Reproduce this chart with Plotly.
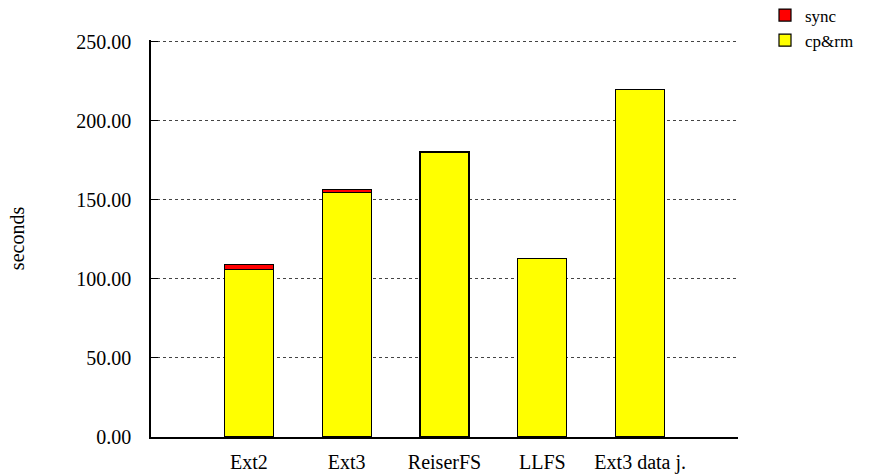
import plotly.graph_objects as go

# Benchmark: time to copy & remove a tree, plus final sync, per file system
categories = ["Ext2", "Ext3", "ReiserFS", "LLFS", "Ext3 data j."]
cp_rm = [106.1, 154.6, 180.2, 112.8, 219.9]
sync = [3.0, 2.0, None, None, None]
y_ticks = [0, 50, 100, 150, 200, 250]

FONT = "Liberation Serif, Times New Roman, serif"

fig = go.Figure()
fig.add_trace(go.Bar(
    x=categories, y=cp_rm, name="cp&rm", width=0.5,
    marker=dict(color="#FFFF00", line=dict(color="black", width=1.2)),
))
fig.add_trace(go.Bar(
    x=categories, y=sync, name="sync", width=0.5,
    marker=dict(color="#FF0000", line=dict(color="black", width=1.2)),
))

fig.update_layout(
    width=869, height=476,
    barmode="stack",
    plot_bgcolor="white", paper_bgcolor="white",
    margin=dict(l=151, r=131, t=40, b=39, autoexpand=False),
    font=dict(family=FONT, size=20, color="black"),
    showlegend=True,
    legend=dict(
        x=1.046, y=1.107, xanchor="left", yanchor="top",
        traceorder="reversed", font=dict(size=17, family=FONT),
        itemwidth=30, tracegroupgap=0, bgcolor="rgba(0,0,0,0)",
    ),
    xaxis=dict(
        type="category", range=[-1, 5],
        showline=True, linecolor="black", linewidth=1.5,
        ticks="", showgrid=False, ticklabelstandoff=6,
        tickfont=dict(size=20, family=FONT),
    ),
    yaxis=dict(
        range=[0, 251], tickvals=y_ticks,
        ticktext=[f"{v:.2f}" for v in y_ticks],
        showline=True, linecolor="black", linewidth=1.5,
        ticks="inside", ticklen=7, tickcolor="black", tickwidth=1,
        showgrid=True, gridcolor="#444444", griddash="dot", gridwidth=1,
        zeroline=False, ticklabelstandoff=14,
        tickfont=dict(size=20, family=FONT),
        title=dict(text="seconds", font=dict(size=20, family=FONT), standoff=46),
    ),
)

fig.write_html("out.html")
